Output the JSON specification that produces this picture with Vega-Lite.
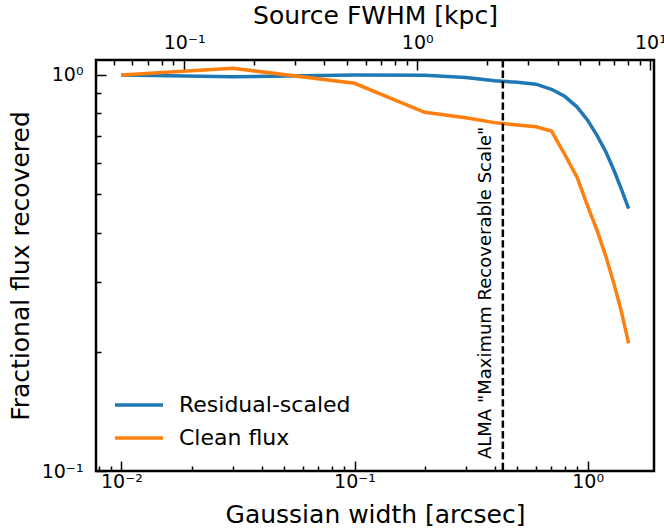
{
  "$schema": "https://vega.github.io/schema/vega-lite/v6.json",
  "autosize": "none",
  "width": 558,
  "height": 411,
  "padding": {"left": 96, "top": 60, "right": 10, "bottom": 60},
  "background": "white",
  "config": {
    "font": "DejaVu Sans",
    "view": {"stroke": "black", "strokeWidth": 2.5},
    "axis": {
      "labelFont": "DejaVu Sans", "titleFont": "DejaVu Sans",
      "labelFontSize": 19, "titleFontSize": 25, "titleFontWeight": "normal",
      "labelColor": "black", "titleColor": "black", "tickColor": "black",
      "tickWidth": 1.5, "grid": false, "domain": false, "labelOverlap": false, "labelFlush": false
    },
    "legend": {"labelFont": "DejaVu Sans"}
  },
  "datasets": {
    "curves": [
      {"w": 0.01, "f": 1.0, "series": "Residual-scaled"},
      {"w": 0.03, "f": 0.99, "series": "Residual-scaled"},
      {"w": 0.1, "f": 1.0, "series": "Residual-scaled"},
      {"w": 0.2, "f": 0.998, "series": "Residual-scaled"},
      {"w": 0.3, "f": 0.985, "series": "Residual-scaled"},
      {"w": 0.4, "f": 0.967, "series": "Residual-scaled"},
      {"w": 0.5, "f": 0.958, "series": "Residual-scaled"},
      {"w": 0.6, "f": 0.948, "series": "Residual-scaled"},
      {"w": 0.7, "f": 0.92, "series": "Residual-scaled"},
      {"w": 0.8, "f": 0.882, "series": "Residual-scaled"},
      {"w": 0.9, "f": 0.831, "series": "Residual-scaled"},
      {"w": 1.0, "f": 0.769, "series": "Residual-scaled"},
      {"w": 1.1, "f": 0.702, "series": "Residual-scaled"},
      {"w": 1.2, "f": 0.638, "series": "Residual-scaled"},
      {"w": 1.3, "f": 0.573, "series": "Residual-scaled"},
      {"w": 1.4, "f": 0.513, "series": "Residual-scaled"},
      {"w": 1.5, "f": 0.46, "series": "Residual-scaled"},
      {"w": 0.01, "f": 1.0, "series": "Clean flux"},
      {"w": 0.03, "f": 1.04, "series": "Clean flux"},
      {"w": 0.1, "f": 0.953, "series": "Clean flux"},
      {"w": 0.2, "f": 0.805, "series": "Clean flux"},
      {"w": 0.3, "f": 0.78, "series": "Clean flux"},
      {"w": 0.4, "f": 0.758, "series": "Clean flux"},
      {"w": 0.5, "f": 0.748, "series": "Clean flux"},
      {"w": 0.6, "f": 0.74, "series": "Clean flux"},
      {"w": 0.7, "f": 0.722, "series": "Clean flux"},
      {"w": 0.8, "f": 0.628, "series": "Clean flux"},
      {"w": 0.9, "f": 0.553, "series": "Clean flux"},
      {"w": 1.0, "f": 0.467, "series": "Clean flux"},
      {"w": 1.1, "f": 0.404, "series": "Clean flux"},
      {"w": 1.2, "f": 0.347, "series": "Clean flux"},
      {"w": 1.3, "f": 0.296, "series": "Clean flux"},
      {"w": 1.4, "f": 0.251, "series": "Clean flux"},
      {"w": 1.5, "f": 0.21, "series": "Clean flux"}
    ]
  },
  "layer": [
    {
      "layer": [
        {
          "data": {"name": "curves"},
          "mark": {"type": "line", "strokeWidth": 3.5},
          "encoding": {
            "x": {
              "field": "w", "type": "quantitative",
              "scale": {"type": "log", "domain": [0.00778, 1.927], "nice": false},
              "axis": {
                "orient": "bottom", "title": "Gaussian width [arcsec]",
                "tickSize": {"condition": {"test": "abs(log(datum.value)/LN10 - round(log(datum.value)/LN10)) < 0.01", "value": -10}, "value": -5},
                "labelPadding": 11, "titlePadding": 6,
                "labelExpr": "abs(log(datum.value)/LN10 - round(log(datum.value)/LN10)) < 0.01 ? (round(log(datum.value)/LN10) == -2 ? '10⁻²' : round(log(datum.value)/LN10) == -1 ? '10⁻¹' : round(log(datum.value)/LN10) == 0 ? '10⁰' : '10¹') : ''"
              }
            },
            "y": {
              "field": "f", "type": "quantitative",
              "scale": {"type": "log", "domain": [0.1, 1.091], "nice": false},
              "axis": {
                "title": "Fractional flux recovered",
                "tickSize": {"condition": {"test": "abs(log(datum.value)/LN10 - round(log(datum.value)/LN10)) < 0.01", "value": -10}, "value": -5},
                "labelPadding": 23, "titlePadding": 8,
                "labelExpr": "abs(log(datum.value)/LN10 - round(log(datum.value)/LN10)) < 0.01 ? (round(log(datum.value)/LN10) == -1 ? '10⁻¹' : '10⁰') : ''"
              }
            },
            "color": {
              "field": "series", "type": "nominal",
              "scale": {"domain": ["Residual-scaled", "Clean flux"], "range": ["#1f77b4", "#ff7f0e"]},
              "legend": {
                "title": null, "orient": "none", "legendX": 17, "legendY": 334, "padding": 0,
                "symbolType": "stroke", "symbolSize": 2304, "symbolStrokeWidth": 3.5,
                "clipHeight": 22, "rowPadding": 11, "labelFontSize": 22, "labelOffset": 14, "labelLimit": 400,
                "labelColor": "black", "labelFont": "DejaVu Sans"
              }
            }
          }
        },
        {
          "data": {"values": [{"w": 0.433}]},
          "mark": {"type": "rule", "color": "black", "strokeWidth": 2.5, "strokeDash": [7.4, 3.2]},
          "encoding": {
            "x": {"field": "w", "type": "quantitative"}
          }
        },
        {
          "data": {"values": [{"w": 0.433, "f": 0.1, "label": "ALMA \"Maximum Recoverable Scale\""}]},
          "mark": {"type": "text", "angle": 270, "align": "left", "baseline": "bottom", "dx": 12, "dy": -8, "fontSize": 18, "font": "DejaVu Sans", "color": "black"},
          "encoding": {
            "x": {"field": "w", "type": "quantitative"},
            "y": {"field": "f", "type": "quantitative"},
            "text": {"field": "label"}
          }
        }
      ]
    },
    {
      "data": {"values": [{"kpc": 1}]},
      "mark": {"type": "rule", "opacity": 0},
      "encoding": {
        "x": {
          "field": "kpc", "type": "quantitative",
          "scale": {"type": "log", "domain": [0.04186, 10.367], "nice": false},
          "axis": {
            "orient": "top", "title": "Source FWHM [kpc]",
            "tickSize": {"condition": {"test": "abs(log(datum.value)/LN10 - round(log(datum.value)/LN10)) < 0.01", "value": -10}, "value": -5},
            "labelPadding": 18, "titlePadding": 0,
            "labelExpr": "abs(log(datum.value)/LN10 - round(log(datum.value)/LN10)) < 0.01 ? (round(log(datum.value)/LN10) == -1 ? '10⁻¹' : round(log(datum.value)/LN10) == 0 ? '10⁰' : '10¹') : ''"
          }
        }
      }
    }
  ],
  "resolve": {"scale": {"x": "independent"}, "axis": {"x": "independent"}}
}
